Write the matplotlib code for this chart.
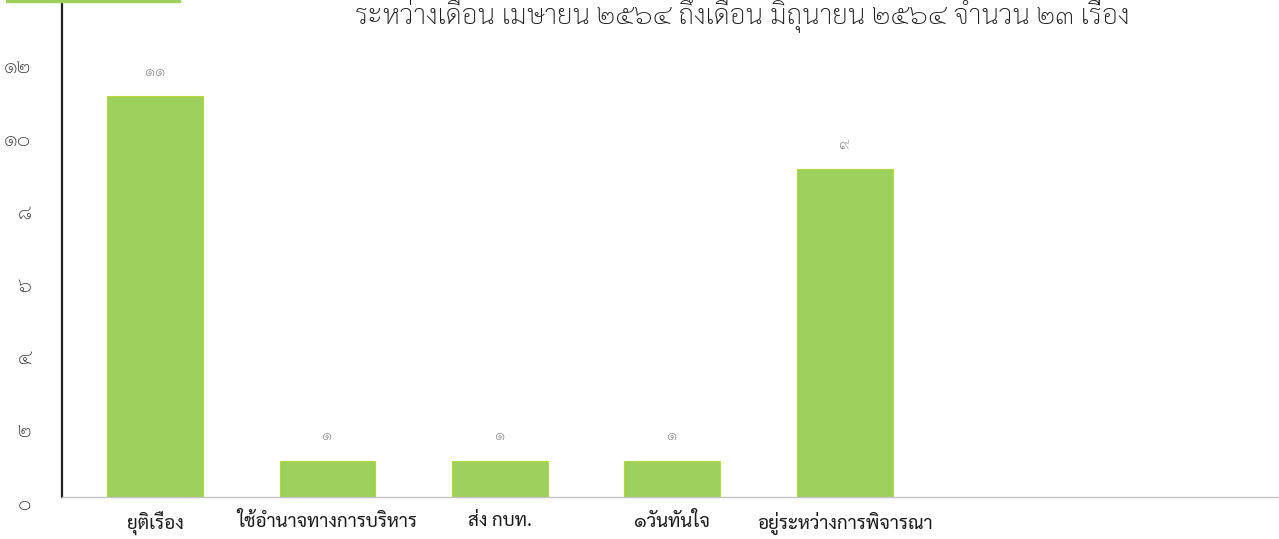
import os
import matplotlib
matplotlib.use("Agg")
import matplotlib.pyplot as plt
from matplotlib.patches import Rectangle
from matplotlib.transforms import ScaledTranslation
from matplotlib.font_manager import FontProperties

THAI = ["Sarabun", "DejaVu Sans"]
REG = "/usr/share/fonts/truetype/google-fonts/Sarabun-Regular.ttf"

# data (Thai numerals kept for the labels)
categories = ["ยุติเรื่อง", "ใช้อำนาจทางการบริหาร", "ส่ง กบท.", "๑วันทันใจ",
              "อยู่ระหว่างการพิจารณา", "", ""]
values = [11, 1, 1, 1, 9, None, None]
value_labels = ["๑๑", "๑", "๑", "๑", "๙"]
yticks = [0, 2, 4, 6, 8, 10, 12]
ytick_labels = ["๐", "๒", "๔", "๖", "๘", "๑๐", "๑๒"]
title = "ระหว่างเดือน เมษายน ๒๕๖๔ ถึงเดือน มิถุนายน ๒๕๖๔ จำนวน ๒๓ เรื่อง"

plt.rcParams["font.family"] = THAI
if os.path.exists(REG):
    cat_font = FontProperties(fname=REG, size=13.5)
else:
    cat_font = FontProperties(family=THAI, size=13.5)

fig = plt.figure(figsize=(12.79, 5.39), dpi=100)
ax = fig.add_axes([62 / 1279, 42 / 539, 1 - 62 / 1279, 1 - 42 / 539])

xs = list(range(len(categories)))
bar_x = [x for x, v in zip(xs, values) if v is not None]
bar_v = [v for v in values if v is not None]
bars = ax.bar(bar_x, bar_v, width=0.556, color="#9cd25b", edgecolor="#b7d83a",
              linewidth=0.8, zorder=2)
for b, lab in zip(bars, value_labels):
    ax.annotate(lab, (b.get_x() + b.get_width() / 2, b.get_height()),
                xytext=(0, 17), textcoords="offset points", ha="center",
                va="center", fontsize=11, fontweight="light", color="#666666")

ax.set_xlim(-0.54, 6.52)
ax.set_ylim(0, 13.65)
ax.set_xticks(xs)
ax.set_xticklabels(categories, fontproperties=cat_font, color="#1a1a1a")
ax.set_yticks(yticks)
ax.set_yticklabels(ytick_labels, fontsize=15, fontweight="light", color="#333333")
ax.tick_params(axis="x", length=0, pad=11)
ax.tick_params(axis="y", length=0, pad=22)
for lab in ax.get_yticklabels():
    lab.set_transform(lab.get_transform() + ScaledTranslation(0, -5 / 100, fig.dpi_scale_trans))

for s in ["top", "right"]:
    ax.spines[s].set_visible(False)
ax.spines["left"].set_color("#222222")
ax.spines["left"].set_linewidth(1.6)
ax.spines["bottom"].set_color("#c4c4c4")
ax.spines["bottom"].set_linestyle((0, (2, 1)))
ax.spines["bottom"].set_linewidth(1.0)

# title sits right at the top edge, as in the scan
fig.text(742 / 1279, 1 - 24 / 539, title, ha="center", va="baseline",
         fontsize=20, fontweight="light", color="#1a1a1a")
fig.patches.append(Rectangle((6 / 1279, 1 - 2 / 539), 174 / 1279, 2 / 539,
                             transform=fig.transFigure, color="#9cd25b"))

fig.savefig("out.png", dpi=100, facecolor="white")
